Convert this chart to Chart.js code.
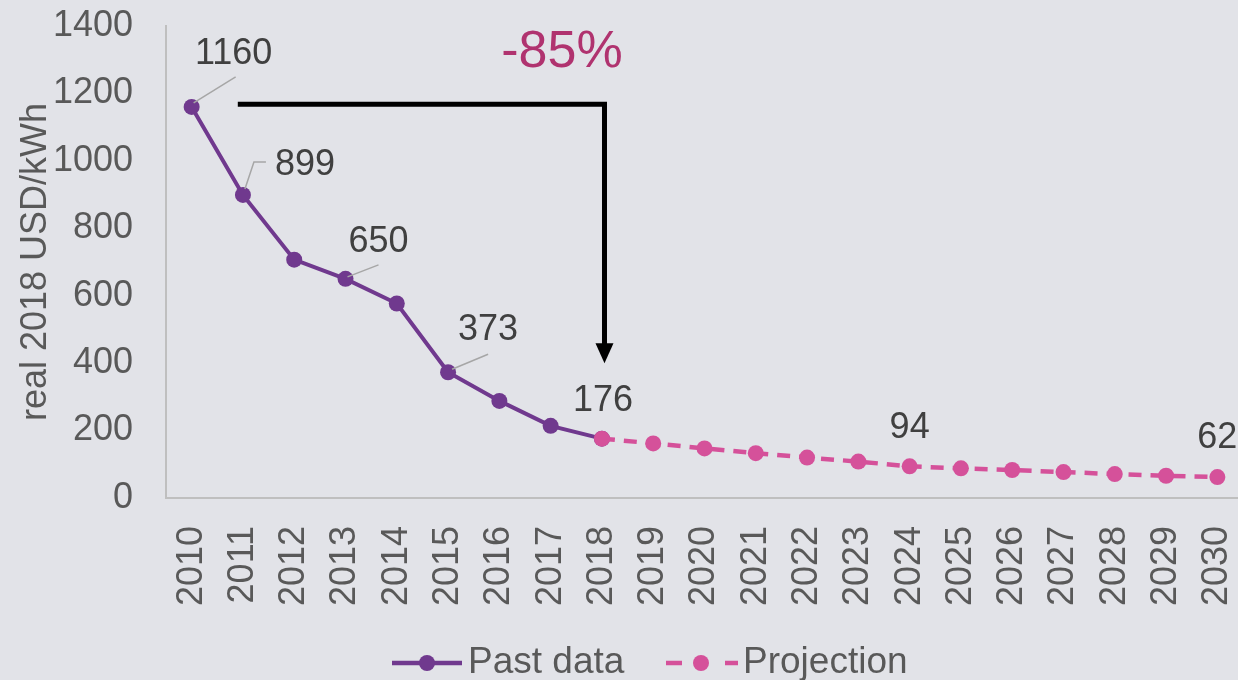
<!DOCTYPE html>
<html>
<head>
<meta charset="utf-8">
<script src="https://cdn.jsdelivr.net/npm/chart.js@4/dist/chart.umd.min.js"></script>
<style>
  html, body { margin: 0; padding: 0; background: #e2e3e8; overflow: hidden; }
  #wrap { position: relative; width: 1238px; height: 680px; overflow: hidden; }
  canvas { position: absolute; left: 0; top: 0; }
</style>
</head>
<body>
<div id="wrap"><canvas id="costChart" width="1251" height="680"></canvas></div>
<script>
// years on the x axis
const years = ['2010','2011','2012','2013','2014','2015','2016','2017','2018','2019',
               '2020','2021','2022','2023','2024','2025','2026','2027','2028','2029','2030'];
// battery pack price, real 2018 USD/kWh
const pastData   = [1160, 899, 707, 650, 577, 373, 288, 214, 176,
                    null, null, null, null, null, null, null, null, null, null, null, null];
const projection = [null, null, null, null, null, null, null, null, 176,
                    162, 147, 133, 120, 108, 94, 88, 83, 77, 71, 66, 62];
const yTicks = [0, 200, 400, 600, 800, 1000, 1200, 1400];

const PURPLE = '#70398e';
const PINK = '#d5519a';
const FONT = "'Liberation Sans', Arial, sans-serif";

// which points get a value label, and where the label/leader goes (pixel offsets)
const labelSpecs = [
  { data: pastData, i: 0, dx: 42, dy: -53, leader: [[2, -4], [44, -30]] },
  { data: pastData, i: 1, dx: 62, dy: -30, leader: [[2, -6], [11, -33], [23, -33]] },
  { data: pastData, i: 3, dx: 33, dy: -37, leader: [[2, -2], [33, -14]] },
  { data: pastData, i: 5, dx: 40, dy: -42, leader: [[4, -3], [40, -18]] },
  { data: projection, i: 8, dx: 1, dy: -38 },
  { data: projection, i: 14, dx: 0, dy: -38 },
  { data: projection, i: 20, dx: 0, dy: -39 }
];

// labels, leader lines, the -85% arrow and the legend
const extrasPlugin = {
  id: 'extras',
  afterDatasetsDraw(chart) {
    const ctx = chart.ctx;
    const x = chart.scales.x, y = chart.scales.y;
    ctx.save();

    // leader lines + value labels
    ctx.font = '36px ' + FONT;
    ctx.textAlign = 'center';
    ctx.textBaseline = 'middle';
    labelSpecs.forEach(s => {
      const px = x.getPixelForValue(s.i);
      const py = y.getPixelForValue(s.data[s.i]);
      if (s.leader) {
        ctx.strokeStyle = '#a6a6a6';
        ctx.lineWidth = 1.5;
        ctx.beginPath();
        s.leader.forEach((p, k) => {
          if (k === 0) ctx.moveTo(px + p[0], py + p[1]);
          else ctx.lineTo(px + p[0], py + p[1]);
        });
        ctx.stroke();
      }
      ctx.fillStyle = '#404040';
      ctx.fillText(String(s.data[s.i]), px + s.dx, py + s.dy);
    });

    // black elbow arrow from 2010 level down to 2018
    const ax0 = x.getPixelForValue(0.9);
    const ax1 = x.getPixelForValue(8.05);
    const ay0 = y.getPixelForValue(1168);
    const ayTip = y.getPixelForValue(400);
    ctx.strokeStyle = '#000';
    ctx.fillStyle = '#000';
    ctx.lineWidth = 5;
    ctx.lineJoin = 'miter';
    ctx.beginPath();
    ctx.moveTo(ax0, ay0);
    ctx.lineTo(ax1, ay0);
    ctx.lineTo(ax1, ayTip - 18);
    ctx.stroke();
    ctx.beginPath();
    ctx.moveTo(ax1 - 9, ayTip - 20);
    ctx.lineTo(ax1 + 9, ayTip - 20);
    ctx.lineTo(ax1, ayTip);
    ctx.closePath();
    ctx.fill();

    // -85% text
    ctx.font = '52px ' + FONT;
    ctx.fillStyle = '#b0336f';
    ctx.fillText('-85%', x.getPixelForValue(7.22), y.getPixelForValue(1322));

    // legend
    const ly = 663;
    ctx.font = '37px ' + FONT;
    ctx.textAlign = 'left';
    ctx.lineWidth = 4.5;
    ctx.strokeStyle = PURPLE;
    ctx.beginPath();
    ctx.moveTo(392, ly);
    ctx.lineTo(462, ly);
    ctx.stroke();
    ctx.fillStyle = PURPLE;
    ctx.beginPath();
    ctx.arc(427, ly, 8, 0, Math.PI * 2);
    ctx.fill();
    ctx.fillStyle = '#595959';
    ctx.fillText('Past data', 468, ly);

    ctx.strokeStyle = PINK;
    ctx.beginPath();
    ctx.moveTo(666, ly); ctx.lineTo(682, ly);
    ctx.moveTo(725, ly); ctx.lineTo(738, ly);
    ctx.stroke();
    ctx.fillStyle = PINK;
    ctx.beginPath();
    ctx.arc(701, ly, 8, 0, Math.PI * 2);
    ctx.fill();
    ctx.fillStyle = '#595959';
    ctx.fillText('Projection', 743, ly);

    ctx.restore();
  }
};

const ctx = document.getElementById('costChart').getContext('2d');
new Chart(ctx, {
  type: 'line',
  data: {
    labels: years,
    datasets: [
      {
        label: 'Past data',
        data: pastData,
        borderColor: PURPLE,
        backgroundColor: PURPLE,
        borderWidth: 4,
        pointRadius: 8,
        pointHoverRadius: 8,
        pointBorderWidth: 0,
        tension: 0,
        order: 1
      },
      {
        label: 'Projection',
        data: projection,
        borderColor: PINK,
        backgroundColor: PINK,
        borderWidth: 4.5,
        borderDash: [13, 9],
        pointRadius: 8,
        pointHoverRadius: 8,
        pointBorderWidth: 0,
        tension: 0,
        order: 0
      }
    ]
  },
  options: {
    responsive: false,
    animation: false,
    events: [],
    layout: { padding: { top: 26, left: 0, right: 0, bottom: 0 } },
    plugins: {
      legend: { display: false },
      tooltip: { enabled: false }
    },
    scales: {
      x: {
        offset: true,
        grid: { display: false },
        border: { display: true, color: '#bfbfbf', width: 2 },
        ticks: {
          color: '#595959',
          font: { family: FONT, size: 36 },
          minRotation: 90,
          maxRotation: 90,
          padding: 20,
          autoSkip: false
        },
        afterFit: s => { s.height = 182; s.paddingLeft = 0; s.paddingRight = 0; }
      },
      y: {
        min: 0,
        max: 1400,
        grid: { display: false },
        border: { display: true, color: '#bfbfbf', width: 2 },
        afterBuildTicks: s => { s.ticks = yTicks.map(v => ({ value: v })); },
        ticks: {
          color: '#595959',
          font: { family: FONT, size: 36 },
          padding: 25,
          callback: v => String(v)
        },
        title: {
          display: true,
          text: 'real 2018 USD/kWh',
          color: '#595959',
          font: { family: FONT, size: 36 },
          padding: { top: 14, bottom: 0 }
        },
        afterFit: s => { s.width = 166; s.paddingTop = 0; s.paddingBottom = 0; }
      }
    }
  },
  plugins: [extrasPlugin]
});
</script>
</body>
</html>
